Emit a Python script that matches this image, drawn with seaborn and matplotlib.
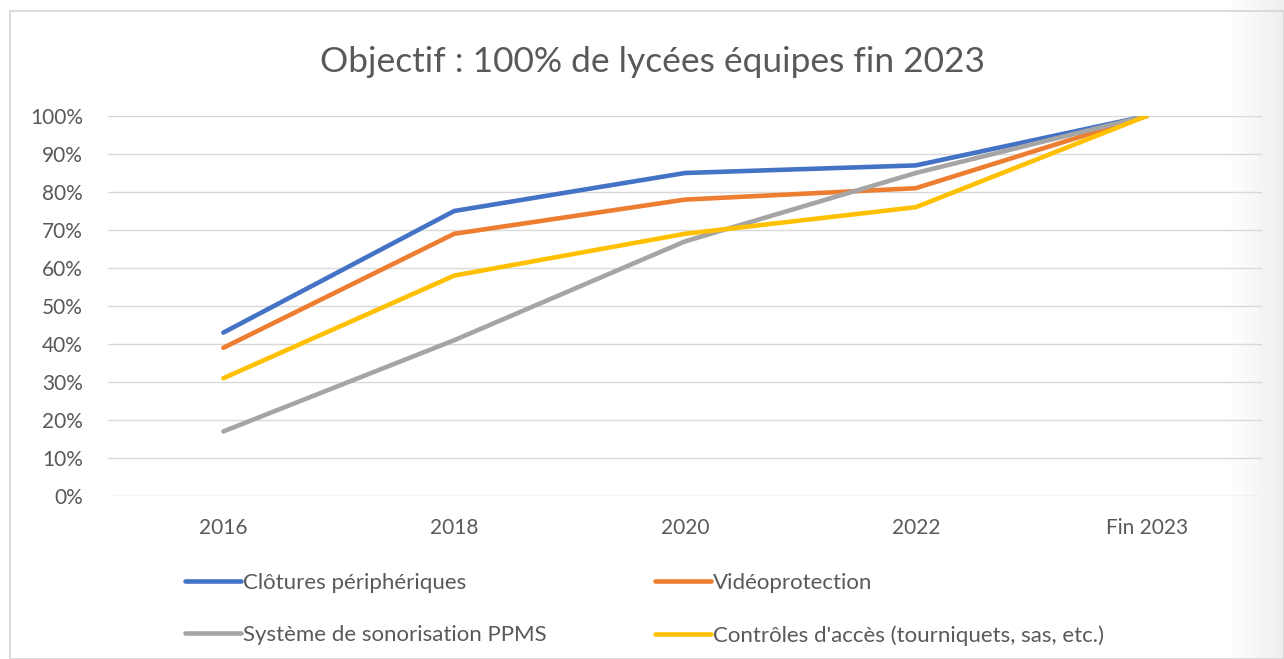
import pandas as pd
import numpy as np
import matplotlib.pyplot as plt
import seaborn as sns
from matplotlib.patches import Rectangle
from matplotlib.ticker import PercentFormatter

sns.set_style("white")
plt.rcParams['font.family'] = ['Lato', 'DejaVu Sans']

# données
annees = ['2016', '2018', '2020', '2022', 'Fin 2023']
clotures = [43, 75, 85, 87, 100]
video = [39, 69, 78, 81, 100]
sonorisation = [17, 41, 67, 85, 100]
controles = [31, 58, 69, 76, 100]

series = {
    'Clôtures périphériques': clotures,
    'Vidéoprotection': video,
    'Système de sonorisation PPMS': sonorisation,
    "Contrôles d'accès (tourniquets, sas, etc.)": controles,
}
couleurs = {
    'Clôtures périphériques': '#4472C4',
    'Vidéoprotection': '#ED7D31',
    'Système de sonorisation PPMS': '#A5A5A5',
    "Contrôles d'accès (tourniquets, sas, etc.)": '#FFC000',
}

rows = []
for nom, vals in series.items():
    for a, v in zip(annees, vals):
        rows.append({'annee': a, 'valeur': v / 100, 'serie': nom})
df = pd.DataFrame(rows)

W, H = 1284, 659
fig = plt.figure(figsize=(W / 100, H / 100), dpi=100)

# léger dégradé gris sur le bord droit (ombre de la capture)
bg = fig.add_axes([0, 0, 1, 1], zorder=-1)
xs = np.arange(W)
grad = np.tile(np.clip((xs - 1225) / (W - 1225), 0, 1) * 0.07, (2, 1))
bg.imshow(1 - grad, cmap='gray', vmin=0, vmax=1, aspect='auto', extent=[0, 1, 0, 1])
bg.axis('off')

ax = fig.add_axes([108 / W, 1 - 496 / H, (1262 - 108) / W, (496 - 116) / H])
ax.patch.set_alpha(0)

sns.lineplot(data=df, x='annee', y='valeur', hue='serie', palette=couleurs,
             linewidth=3.3, ax=ax, legend=False, sort=False)

ax.set_xlim(-0.5, 4.5)
ax.set_ylim(0, 1)
ax.set_yticks(np.arange(0, 1.01, 0.1))
ax.yaxis.set_major_formatter(PercentFormatter(1.0, decimals=0))
ax.grid(True, axis='y', color='#d9d9d9', linewidth=1)
ax.grid(False, axis='x')
for s in ax.spines.values():
    s.set_visible(False)
ax.tick_params(axis='y', length=0, pad=18, labelsize=15, labelcolor='#595959')
ax.tick_params(axis='x', length=0, pad=16, labelsize=15, labelcolor='#595959')
ax.set_xlabel('')
ax.set_ylabel('')

fig.text(653 / W, 1 - 62 / H, 'Objectif : 100% de lycées équipes fin 2023',
         ha='center', va='center', fontsize=25.5, color='#595959')

# légende en deux colonnes, ordre colonne par colonne
ordre = ['Clôtures périphériques', 'Système de sonorisation PPMS',
         'Vidéoprotection', "Contrôles d'accès (tourniquets, sas, etc.)"]
handles = [plt.Line2D([], [], color=couleurs[n], linewidth=3.3) for n in ordre]
fig.legend(handles, ordre, loc='upper left', bbox_to_anchor=(165 / W, 1 - 553 / H),
           ncol=2, frameon=False, fontsize=16, handlelength=2.5, handletextpad=0.1,
           columnspacing=4.9, labelspacing=1.45, labelcolor='#595959')

fig.patches.append(Rectangle((10 / W, 0), 1 - 10 / W, 1 - 11 / H,
                             transform=fig.transFigure, fill=False,
                             edgecolor='#d4d4d4', linewidth=1.2))

fig.savefig('out.png', dpi=100, facecolor='white')
